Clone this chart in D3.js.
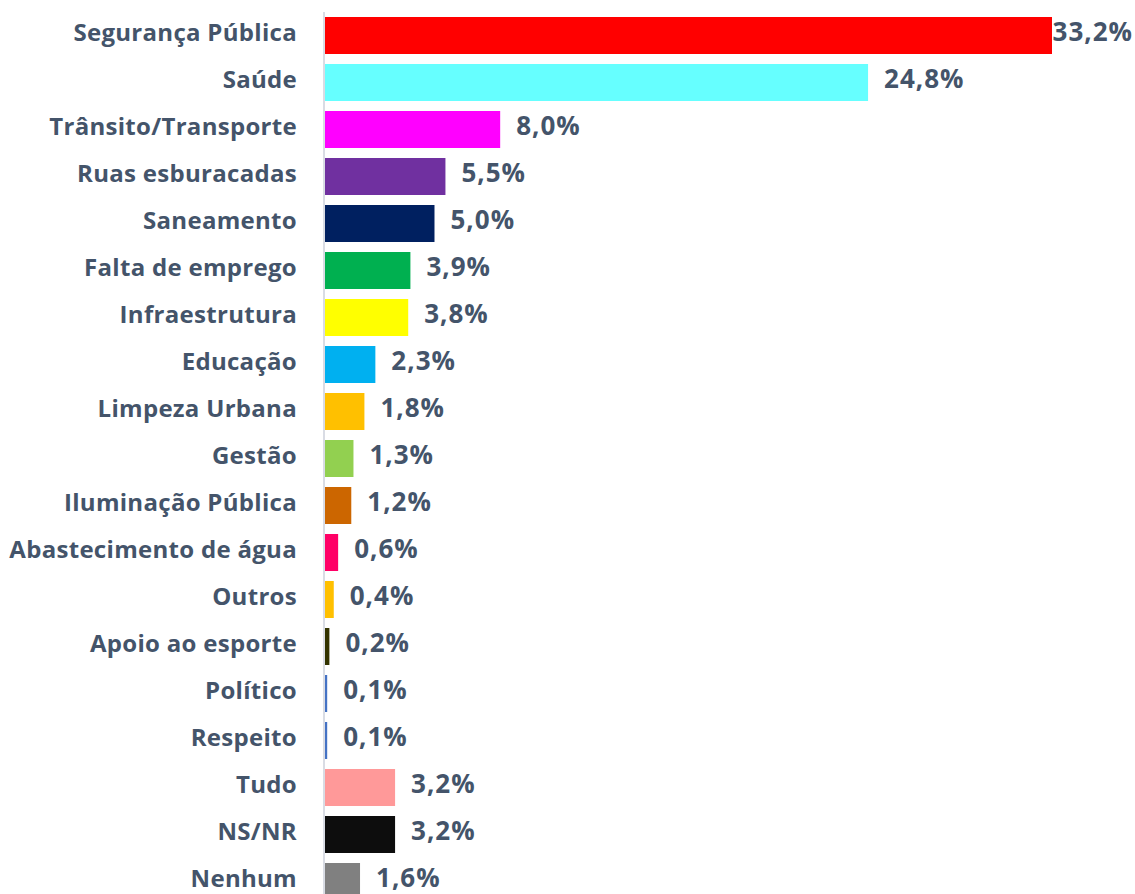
<!DOCTYPE html>
<html>
<head>
<meta charset="utf-8">
<script src="https://cdn.jsdelivr.net/npm/d3@7"></script>
<style>
  body { margin: 0; background: #fff; }
  text { font-family: "Open Sans", Lato, sans-serif; font-weight: bold; fill: #44546a; }
</style>
</head>
<body>
<svg width="1135" height="894"></svg>
<script>
const W = 1135, H = 894;

// chart data
const categories = ["Segurança Pública", "Saúde", "Trânsito/Transporte", "Ruas esburacadas", "Saneamento",
    "Falta de emprego", "Infraestrutura", "Educação", "Limpeza Urbana", "Gestão", "Iluminação Pública",
    "Abastecimento de água", "Outros", "Apoio ao esporte", "Político", "Respeito", "Tudo", "NS/NR", "Nenhum"];
const values = [33.2, 24.8, 8.0, 5.5, 5.0, 3.9, 3.8, 2.3, 1.8, 1.3, 1.2, 0.6, 0.4, 0.2, 0.1, 0.1, 3.2, 3.2, 1.6];
const colors = ["#ff0000", "#66ffff", "#ff00ff", "#7030a0", "#002060", "#00b050", "#ffff00", "#00b0f0",
    "#ffc000", "#92d050", "#cc6600", "#ff0066", "#ffc000", "#333300", "#4472c4", "#4472c4", "#ff9999",
    "#0d0d0d", "#808080"];

const svg = d3.select("svg");
const x0 = 325;

const xScale = d3.scaleLinear()
    .domain([0, 33.2])
    .range([x0, 1052]);

const yScale = d3.scaleBand()
    .domain(categories)
    .range([12, 905])
    .paddingInner(10 / 47)
    .paddingOuter(5 / 47);

// bars
svg.selectAll("rect.bar")
    .data(values)
    .join("rect")
    .attr("class", "bar")
    .attr("x", x0)
    .attr("y", (d, i) => yScale(categories[i]))
    .attr("width", d => xScale(d) - x0)
    .attr("height", yScale.bandwidth())
    .attr("fill", (d, i) => colors[i]);

// vertical axis line
svg.append("line")
    .attr("x1", x0 - 1).attr("x2", x0 - 1)
    .attr("y1", 12).attr("y2", H)
    .attr("stroke", "#d9dce4")
    .attr("stroke-width", 2);

// category labels
svg.selectAll("text.cat")
    .data(categories)
    .join("text")
    .attr("class", "cat")
    .attr("x", 297)
    .attr("y", d => yScale(d) + yScale.bandwidth() / 2)
    .attr("dy", "0.22em")
    .attr("text-anchor", "end")
    .style("font-size", "24px")
    .style("letter-spacing", "0.3px")
    .text(d => d);

// value labels
svg.selectAll("text.val")
    .data(values)
    .join("text")
    .attr("class", "val")
    .attr("y", (d, i) => yScale(categories[i]) + yScale.bandwidth() / 2)
    .attr("dy", "0.21em")
    .style("font-size", "26px")
    .style("letter-spacing", "1px")
    .text(d => d.toFixed(1).replace(".", ",") + "%")
    .attr("x", function(d) {
        const w = this.getComputedTextLength();
        return Math.min(xScale(d) + 16, W - 2 - w);
    });
</script>
</body>
</html>
